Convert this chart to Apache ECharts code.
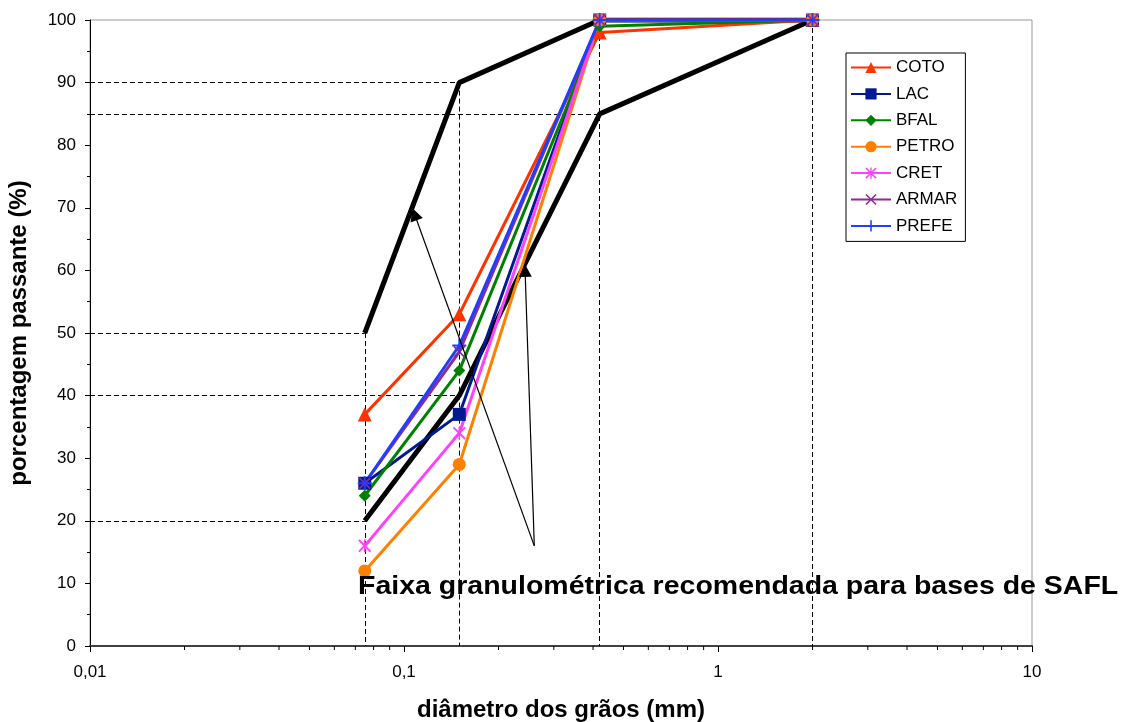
<!DOCTYPE html>
<html>
<head>
<meta charset="utf-8">
<script src="https://cdn.jsdelivr.net/npm/echarts@6/dist/echarts.min.js"></script>
<style>
html, body { margin: 0; padding: 0; background: #fff; }
#chart { width: 1125px; height: 722px; }
</style>
</head>
<body>
<div id="chart"></div>
<script>
// aberturas das peneiras (mm)
var sieves = [0.075, 0.15, 0.42, 2.0];

// % passante de cada solo
var coto  = [37, 53, 98, 100];
var lac   = [26, 37, 100, 100];
var bfal  = [24, 44, 99, 100];
var petro = [12, 29, 100, 100];
var cret  = [16, 34, 100, 100];
var armar = [26, 47, 100, 100];
var prefe = [26, 48, 100, 100];

// faixa recomendada
var bandUpper = [50, 90, 100, 100];
var bandLower = [20, 40, 85, 100];

var xMin = 0.01, xMax = 10;
var decades = [0.01, 0.1, 1];
var minorMult = [2, 3, 4, 5, 6, 7, 8, 9];
var yTicks = [0, 10, 20, 30, 40, 50, 60, 70, 80, 90, 100];

var noteText = 'Faixa granulométrica recomendada para bases de SAFL';
var arrowFrom = [0.26, 16];
var arrowTo = [[0.108, 69], [0.243, 60]];

var FONT = 'Liberation Sans, Arial, sans-serif';

// marcadores feitos a mao
var symPlus = 'path://M4.3,0H5.7V10H4.3Z M0,4.3H10V5.7H0Z';
var symCross = 'path://M0,1L1,0L10,9L9,10Z M9,0L10,1L1,10L0,9Z';
var symStar = 'path://M0,1L1,0L10,9L9,10Z M9,0L10,1L1,10L0,9Z M4.4,0H5.6V10H4.4Z';

var soils = [
    { name: 'COTO',  data: coto,  color: '#FF3300', symbol: 'triangle', size: 14 },
    { name: 'LAC',   data: lac,   color: '#001A94', symbol: 'rect',     size: 13 },
    { name: 'BFAL',  data: bfal,  color: '#008000', symbol: 'diamond',  size: 12 },
    { name: 'PETRO', data: petro, color: '#FF8000', symbol: 'circle',   size: 13 },
    { name: 'CRET',  data: cret,  color: '#FF40FF', symbol: symStar,    size: 13 },
    { name: 'ARMAR', data: armar, color: '#8E2A92', symbol: symCross,   size: 12 },
    { name: 'PREFE', data: prefe, color: '#1F3FFF', symbol: symPlus,    size: 14 }
];

function pts(vals) {
    return sieves.map(function (x, i) { return [x, vals[i]]; });
}

// linhas tracejadas de referencia
var guides = [];
sieves.forEach(function (x, i) {
    var top = Math.max(bandUpper[i], bandLower[i]);
    guides.push({ coords: [[x, top], [x, 0]] });
    [bandUpper[i], bandLower[i]].forEach(function (v) {
        if (v < 100) guides.push({ coords: [[xMin, v], [x, v]] });
    });
});

// ticks menores do eixo log (2..9 de cada decada)
var minorTicks = [];
decades.forEach(function (d) {
    minorMult.forEach(function (m) { minorTicks.push([d * m, 0]); });
});

var series = [];
series.push({
    type: 'lines', coordinateSystem: 'cartesian2d', silent: true, z: 1,
    symbol: 'none',
    lineStyle: { color: '#000', width: 1, type: [5, 3], opacity: 1 },
    data: guides
});
series.push({
    type: 'custom', silent: true, z: 5, clip: false,
    data: minorTicks,
    renderItem: function (params, api) {
        var p = api.coord([api.value(0), api.value(1)]);
        return {
            type: 'line',
            shape: { x1: p[0], y1: p[1], x2: p[0], y2: p[1] + 4 },
            style: { stroke: '#000', lineWidth: 1 }
        };
    }
});
[bandUpper, bandLower].forEach(function (b) {
    series.push({
        type: 'line', data: pts(b), symbol: 'none', z: 2,
        lineStyle: { color: '#000', width: 5 }, silent: true
    });
});
soils.forEach(function (s) {
    series.push({
        name: s.name, type: 'line', data: pts(s.data), z: 3,
        symbol: s.symbol, symbolSize: s.size, showAllSymbol: true,
        color: s.color,
        lineStyle: { color: s.color, width: 3 },
        itemStyle: { color: s.color }
    });
});
series.push({
    type: 'lines', coordinateSystem: 'cartesian2d', silent: true, z: 4,
    symbol: ['none', 'triangle'], symbolSize: [0, 13],
    lineStyle: { color: '#000', width: 1.2, opacity: 1 },
    data: arrowTo.map(function (p) { return { coords: [arrowFrom, p] }; })
});

var chart = echarts.init(document.getElementById('chart'));
chart.setOption({
    backgroundColor: '#fff',
    animation: false,
    textStyle: { fontFamily: FONT },
    grid: {
        left: 90, right: 93, top: 20, bottom: 76,
        containLabel: false, outerBoundsMode: 'none',
        show: true, borderColor: '#999', borderWidth: 1
    },
    legend: {
        data: soils.map(function (s) { return s.name; }),
        orient: 'vertical',
        left: 846, top: 53,
        backgroundColor: '#fff',
        borderColor: '#000', borderWidth: 1,
        padding: [6, 8, 7, 4],
        itemWidth: 40, itemHeight: 14, itemGap: 9.4,
        textStyle: { fontSize: 17, color: '#000', fontFamily: FONT }
    },
    xAxis: {
        type: 'log', logBase: 10, min: xMin, max: xMax,
        name: 'diâmetro dos grãos (mm)', nameLocation: 'middle', nameGap: 52,
        nameTextStyle: { fontSize: 24, fontWeight: 'bold', color: '#000', fontFamily: FONT },
        axisLine: { show: true, onZero: false, lineStyle: { color: '#404040', width: 2 } },
        axisTick: { show: true, length: 6, lineStyle: { color: '#000' } },
        minorTick: { show: false },
        splitLine: { show: false },
        axisLabel: {
            fontSize: 17, color: '#000', margin: 18,
            formatter: function (v) { return String(v).replace('.', ','); }
        }
    },
    yAxis: {
        type: 'value', min: yTicks[0], max: yTicks[yTicks.length - 1], interval: 10,
        name: 'porcentagem passante (%)', nameLocation: 'middle', nameGap: 59,
        nameTextStyle: { fontSize: 24, fontWeight: 'bold', color: '#000', fontFamily: FONT },
        axisLine: { show: true, lineStyle: { color: '#000', width: 1 } },
        axisTick: { show: true, length: 5, lineStyle: { color: '#000' } },
        minorTick: { show: true, splitNumber: 2, length: 3, lineStyle: { color: '#000' } },
        splitLine: { show: false },
        axisLabel: { fontSize: 17, color: '#000', margin: 14 }
    },
    graphic: [{
        type: 'text', left: 358, top: 575, z: 100, scaleX: 1.14,
        style: { text: noteText, font: 'bold 25px ' + FONT, fill: '#000' }
    }],
    series: series
});
</script>
</body>
</html>
